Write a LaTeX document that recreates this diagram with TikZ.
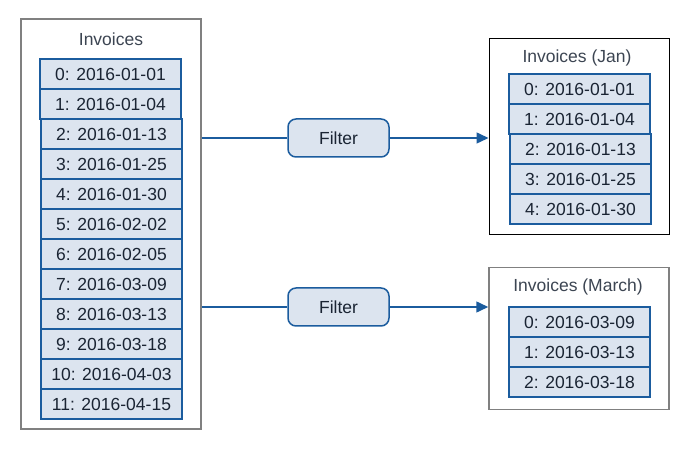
\documentclass[tikz,border=0pt]{standalone}
\usepackage{fontspec}
\setmainfont{Liberation Sans}
\usetikzlibrary{arrows.meta}
\definecolor{cellblue}{HTML}{1B5C9E}
\definecolor{cellfill}{HTML}{DCE4EF}
\definecolor{txt}{HTML}{1A2433}
\definecolor{boxgray}{HTML}{808080}
\tikzset{
  cell/.style={draw=cellblue, fill=cellfill, line width=1.6pt, minimum width=141pt, minimum height=30pt, inner sep=0pt, text=txt, font=\fontsize{17.5}{19}\selectfont},
  container/.style={draw=boxgray, line width=1.5pt, fill=white, inner sep=0pt},
  title/.style={text=txt!85, font=\fontsize{17.5}{19}\selectfont, inner sep=0pt},
  filterbox/.style={draw=cellblue, fill=cellfill, line width=1.5pt, rounded corners=8pt, minimum width=101pt, minimum height=38pt, inner sep=0pt, text=txt, font=\fontsize{17.5}{19}\selectfont},
  conn/.style={draw=cellblue, line width=1.5pt},
}
\begin{document}
\begin{tikzpicture}[x=1pt,y=-1pt]
\useasboundingbox (0,0) rectangle (689,449);
% containers
\node[container, minimum width=180pt, minimum height=410pt] (left) at (111,224) {};
\node[container, draw=black, line width=1pt, minimum width=180pt, minimum height=196pt] (jan) at (579,137) {};
\node[container, minimum width=180pt, minimum height=142pt] (mar) at (579,338.5) {};
% titles
\node[title] (lt) at (111,39) {Invoices};
\node[title] (jt) at (577,58) {Invoices (Jan)};
\node[title] (mt) at (578,287) {Invoices (March)};
% left cells
\node[cell] (l0) at (110.5,74) {0: 2016-01-01};
\node[cell] (l1) at (110.5,104) {1: 2016-01-04};
\node[cell] (l2) at (111.5,134) {2: 2016-01-13};
\node[cell] (l3) at (111.5,164) {3: 2016-01-25};
\node[cell] (l4) at (111.5,194) {4: 2016-01-30};
\node[cell] (l5) at (111.5,224) {5: 2016-02-02};
\node[cell] (l6) at (111.5,254) {6: 2016-02-05};
\node[cell] (l7) at (111.5,284) {7: 2016-03-09};
\node[cell] (l8) at (111.5,314) {8: 2016-03-13};
\node[cell] (l9) at (111.5,344) {9: 2016-03-18};
\node[cell] (l10) at (111.5,374) {10: 2016-04-03};
\node[cell] (l11) at (111.5,404) {11: 2016-04-15};
% jan cells
\node[cell] (j0) at (579.5,89) {0: 2016-01-01};
\node[cell] (j1) at (579.5,119) {1: 2016-01-04};
\node[cell] (j2) at (580.5,149) {2: 2016-01-13};
\node[cell] (j3) at (580.5,179) {3: 2016-01-25};
\node[cell] (j4) at (580.5,209) {4: 2016-01-30};
% march cells
\node[cell] (m0) at (579.5,322) {0: 2016-03-09};
\node[cell] (m1) at (579.5,352) {1: 2016-03-13};
\node[cell] (m2) at (579.5,382) {2: 2016-03-18};
% filters
\node[filterbox] (f1) at (338.5,138) {Filter};
\node[filterbox] (f2) at (338.5,307) {Filter};
% connectors
\draw[conn] (f1 -| left.east) -- (f1.west);
\draw[conn, -{Triangle[length=12pt,width=11pt]}] (f1.east) -- (f1 -| jan.west);
\draw[conn] (f2 -| left.east) -- (f2.west);
\draw[conn, -{Triangle[length=12pt,width=11pt]}] (f2.east) -- (f2 -| mar.west);
\end{tikzpicture}
\end{document}
